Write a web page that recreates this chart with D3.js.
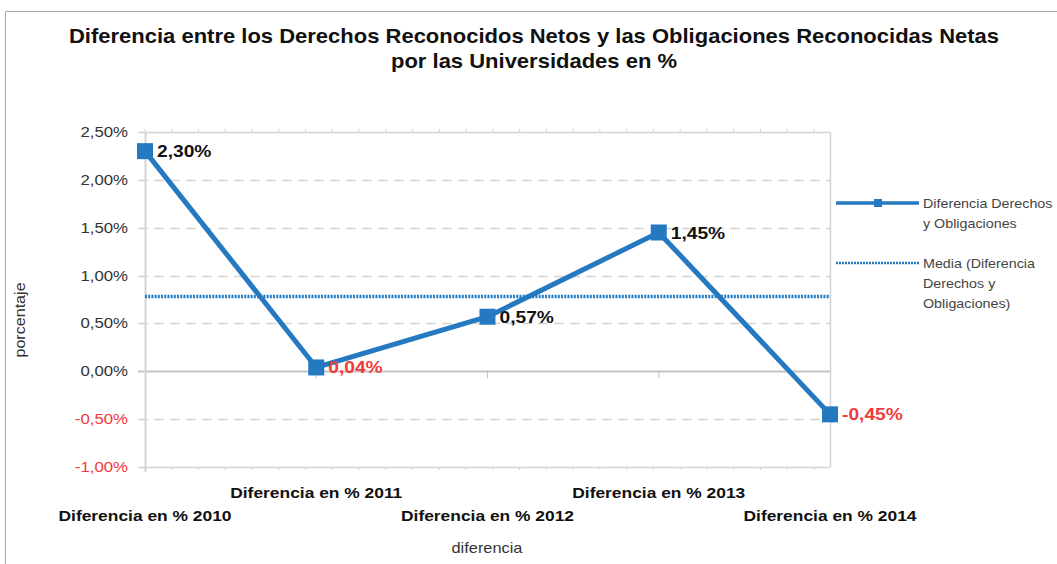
<!DOCTYPE html>
<html>
<head>
<meta charset="utf-8">
<script src="https://cdn.jsdelivr.net/npm/d3@7"></script>
<style>
  body { margin: 0; background: #fff; }
  text { font-family: "Liberation Sans", Arial, sans-serif; }
</style>
</head>
<body>
<div class="canvas"></div>
<script>
// data
const categories = [
  "Diferencia en % 2010",
  "Diferencia en % 2011",
  "Diferencia en % 2012",
  "Diferencia en % 2013",
  "Diferencia en % 2014",
];
const values = [2.3, 0.04, 0.57, 1.45, -0.45];
const yTicks = [2.5, 2.0, 1.5, 1.0, 0.5, 0.0, -0.5, -1.0];
const titleLines = [
  "Diferencia entre los Derechos Reconocidos Netos y las Obligaciones Reconocidas Netas",
  "por las Universidades en %",
];
const legendLabels = [
  ["Diferencia Derechos", "y Obligaciones"],
  ["Media (Diferencia", "Derechos y", "Obligaciones)"],
];

// dimensions
const dims = { width: 1057, height: 564 };
const plot = { left: 145, right: 830, top: 132, bottom: 467 };
const blue = "#2479c1";
const red = "#f03a3a";
const grid = "#d4d4d4";

// helpers
const fmt = (v) =>
  d3.format(".2f")(v).replace(".", ",").replace("\u2212", "-") + "%";

// the reference text is a bit wider than Liberation Sans, so stretch it
// horizontally around its own anchor
const stretch = (sel, sx) => {
  sel.each(function () {
    const t = d3.select(this);
    const tx = +t.attr("x") || 0;
    const ty = +t.attr("y") || 0;
    t.attr("x", 0)
      .attr("y", 0)
      .attr("transform", `translate(${tx},${ty}) scale(${sx},1)`);
    t.selectAll("tspan").attr("x", 0);
  });
};

const svg = d3
  .select(".canvas")
  .append("svg")
  .attr("width", dims.width)
  .attr("height", dims.height);

// outer frame
svg
  .append("path")
  .attr("d", `M5.5,${dims.height} V11.5 H${dims.width}`)
  .attr("fill", "none")
  .attr("stroke", "#a8a8a8");

// title
svg
  .append("g")
  .selectAll("text")
  .data(titleLines)
  .join("text")
  .attr("x", 534)
  .attr("y", (d, i) => 43 + i * 25)
  .attr("text-anchor", "middle")
  .attr("font-size", 20)
  .attr("font-weight", "bold")
  .attr("fill", "#111")
  .text((d) => d)
  .call(stretch, 1.1);

// scales
const x = d3.scalePoint().domain(categories).range([plot.left, plot.right]);
const y = d3.scaleLinear().domain([-1, 2.5]).range([plot.bottom, plot.top]);

const graph = svg.append("g");

// horizontal grid
graph
  .append("g")
  .selectAll("line")
  .data(yTicks)
  .join("line")
  .attr("x1", plot.left - 7)
  .attr("x2", plot.right)
  .attr("y1", (d) => Math.round(y(d)) + 0.5)
  .attr("y2", (d) => Math.round(y(d)) + 0.5)
  .attr("stroke", (d) => (d === 0 ? "#c4c4c4" : grid))
  .attr("stroke-width", (d) => (d === 0 ? 2 : 1.5))
  .attr("stroke-dasharray", (d) => (d === 2.5 || d === 0 || d === -1 ? null : "10,6"));

// left axis + right border
graph
  .append("line")
  .attr("x1", plot.left + 0.5)
  .attr("x2", plot.left + 0.5)
  .attr("y1", plot.top)
  .attr("y2", plot.bottom + 5)
  .attr("stroke", grid)
  .attr("stroke-width", 2);
graph
  .append("line")
  .attr("x1", plot.right + 0.5)
  .attr("x2", plot.right + 0.5)
  .attr("y1", plot.top)
  .attr("y2", plot.bottom)
  .attr("stroke", grid)
  .attr("stroke-width", 1.5);

// minor ticks on top and bottom frame
const minor = d3.range(plot.left, plot.right, (x.step() / 32) * 5);
graph
  .append("g")
  .selectAll("line")
  .data(minor.flatMap((m) => [[m, plot.top, -1], [m, plot.bottom, 1]]))
  .join("line")
  .attr("x1", (d) => d[0])
  .attr("x2", (d) => d[0])
  .attr("y1", (d) => d[1])
  .attr("y2", (d) => d[1] + d[2] * 3)
  .attr("stroke", grid);

// category ticks on the zero line
graph
  .append("g")
  .selectAll("line")
  .data(categories.slice(1, -1))
  .join("line")
  .attr("x1", (d) => x(d))
  .attr("x2", (d) => x(d))
  .attr("y1", y(0))
  .attr("y2", y(0) + 7)
  .attr("stroke", "#c4c4c4");

// y tick labels
graph
  .append("g")
  .selectAll("text")
  .data(yTicks)
  .join("text")
  .attr("x", plot.left - 17)
  .attr("y", (d) => y(d) + 5)
  .attr("text-anchor", "end")
  .attr("font-size", 15)
  .attr("fill", (d) => (d < 0 ? red : "#333"))
  .text((d) => fmt(d))
  .call(stretch, 1.12);

// x category labels, staggered
graph
  .append("g")
  .selectAll("text")
  .data(categories)
  .join("text")
  .attr("x", (d) => x(d))
  .attr("y", (d, i) => (i % 2 ? 498 : 521))
  .attr("text-anchor", "middle")
  .attr("font-size", 15)
  .attr("font-weight", "bold")
  .attr("fill", "#111")
  .text((d) => d)
  .call(stretch, 1.16);

// axis titles
svg
  .append("text")
  .attr("x", 487)
  .attr("y", 553)
  .attr("text-anchor", "middle")
  .attr("font-size", 14)
  .attr("fill", "#333")
  .text("diferencia")
  .call(stretch, 1.17);
svg
  .append("text")
  .attr("transform", "translate(25, 320) rotate(-90) scale(1.15,1)")
  .attr("text-anchor", "middle")
  .attr("font-size", 14)
  .attr("fill", "#333")
  .text("porcentaje");

// mean line
const mean = d3.mean(values);
graph
  .append("line")
  .attr("x1", plot.left)
  .attr("x2", plot.right)
  .attr("y1", y(mean))
  .attr("y2", y(mean))
  .attr("stroke", blue)
  .attr("stroke-width", 3.5)
  .attr("stroke-dasharray", "2,1.2");

// series line
const line = d3
  .line()
  .x((d, i) => x(categories[i]))
  .y((d) => y(d));
graph
  .append("path")
  .datum(values)
  .attr("d", line)
  .attr("fill", "none")
  .attr("stroke", blue)
  .attr("stroke-width", 5)
  .attr("stroke-linejoin", "miter");

// markers
const size = 16;
graph
  .append("g")
  .selectAll("rect")
  .data(values)
  .join("rect")
  .attr("x", (d, i) => x(categories[i]) - size / 2)
  .attr("y", (d) => y(d) - size / 2)
  .attr("width", size)
  .attr("height", size)
  .attr("fill", blue);

// data labels (small values shown in red)
graph
  .append("g")
  .selectAll("text")
  .data(values)
  .join("text")
  .attr("x", (d, i) => x(categories[i]) + 12)
  .attr("y", (d) => y(d) + 6)
  .attr("font-size", 16)
  .attr("font-weight", "bold")
  .attr("fill", (d) => (d < 0.1 ? red : "#111"))
  .text((d) => fmt(d))
  .call(stretch, 1.2);

// legend
const legend = svg.append("g").attr("transform", "translate(836, 0)");
const legendY = [203, 263];
legend
  .append("line")
  .attr("x1", 0)
  .attr("x2", 83)
  .attr("y1", legendY[0])
  .attr("y2", legendY[0])
  .attr("stroke", blue)
  .attr("stroke-width", 3.5);
legend
  .append("rect")
  .attr("x", 38)
  .attr("y", legendY[0] - 4)
  .attr("width", 8)
  .attr("height", 8)
  .attr("fill", blue);
legend
  .append("line")
  .attr("x1", 0)
  .attr("x2", 83)
  .attr("y1", legendY[1])
  .attr("y2", legendY[1])
  .attr("stroke", blue)
  .attr("stroke-width", 2.5)
  .attr("stroke-dasharray", "2,1");
legend
  .selectAll("text.lbl")
  .data(legendLabels)
  .join("text")
  .attr("class", "lbl")
  .attr("x", 87)
  .attr("y", (d, i) => legendY[i] + 5)
  .attr("font-size", 13)
  .attr("fill", "#444")
  .call((sel) =>
    sel
      .selectAll("tspan")
      .data((d) => d)
      .join("tspan")
      .attr("x", 87)
      .attr("dy", (d, i) => (i ? 20 : 0))
      .text((d) => d)
  )
  .call(stretch, 1.1);
</script>
</body>
</html>
